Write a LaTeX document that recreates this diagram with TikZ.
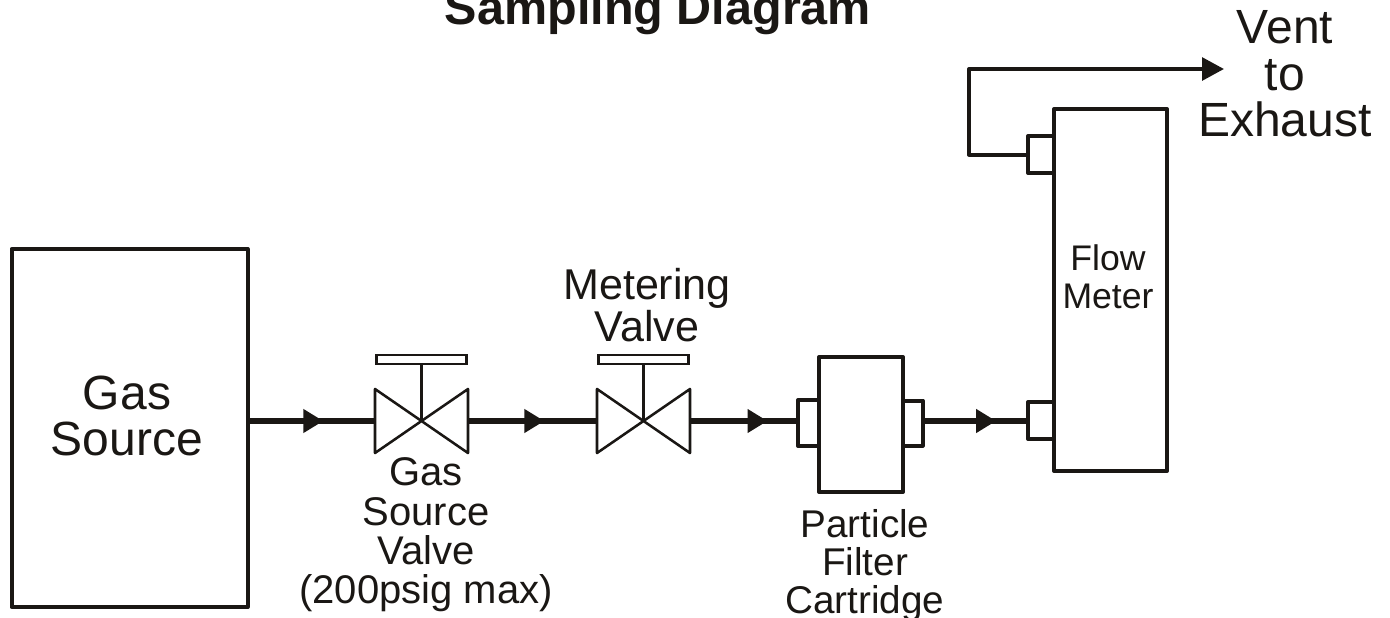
\documentclass[tikz,border=0pt]{standalone}
\usepackage{fontspec}
\setmainfont{Liberation Sans}
\usetikzlibrary{arrows.meta,decorations.markings}
\definecolor{ink}{HTML}{1A1714}
\tikzset{
  px/.style={x=0.75pt,y=-0.75pt},
  boxnode/.style={draw=ink,line width=3pt,line join=round,inner sep=0pt,outer sep=0pt,text=ink},
  lab/.style={text=ink,align=center,inner sep=0pt},
  fs/.style 2 args={font=\fontsize{#1}{#2}\selectfont},
  pipe/.style={draw=ink,line width=3.8pt},
  thinpipe/.style={draw=ink,line width=3pt,line join=round},
  headtip/.tip={Triangle[length=15pt,width=17pt,color=ink]},
  flowmark/.style={postaction={decorate},decoration={markings,mark=at position #1 with {\arrow{headtip}}}},
  valveline/.style={draw=ink,line width=1.9pt,line join=round},
  pics/valve/.style={code={
    \coordinate (-w) at (-46.5,0);
    \coordinate (-e) at (46.5,0);
    \coordinate (-c) at (0,0);
    \node[draw=ink,line width=1.9pt,inner sep=0pt,outer sep=0pt,minimum width=67.5pt,minimum height=6.75pt] (-h) at (0,-61.5) {};
    \draw[valveline] (-46.5,-32) -- (46.5,32) -- (46.5,-32) -- (-46.5,32) -- cycle;
    \draw[valveline] (-h.south) -- (-c);
  }}
}
\begin{document}
\begin{tikzpicture}[px]
\clip (0,0) rectangle (1390,618);
\fill[white] (0,0) rectangle (1390,618);

\node[boxnode,minimum width=177pt,minimum height=268.5pt,fs={36}{35}] (source) at (129.5,428) {};
\node[lab,fs={36}{34}] (sourcetext) at (127,416) {Gas\\Source};

\pic (v1) at (421.5,421) {valve};
\pic (v2) at (643.5,421) {valve};

\node[boxnode,minimum width=15.75pt,minimum height=34.5pt] (capl) at (808.5,423) {};
\node[boxnode,minimum width=15pt,minimum height=33.75pt] (capr) at (912.5,423) {};
\node[boxnode,fill=white,minimum width=63pt,minimum height=101.25pt] (filter) at (861,424.5) {};

\node[boxnode,minimum width=19.5pt,minimum height=27.75pt] (capin) at (1041,420.5) {};
\node[boxnode,minimum width=19.5pt,minimum height=27.75pt] (capout) at (1041,154.5) {};
\node[boxnode,fill=white,minimum width=84.75pt,minimum height=271.5pt] (meter) at (1110.5,290) {};

\coordinate (bend) at (969,69);
\coordinate (vent) at (1224,69);

\draw[pipe,flowmark=0.595] (source.east |- v1-c) -- (v1-w);
\draw[pipe,flowmark=0.592] (v1-e) -- (v2-w);
\draw[pipe,flowmark=0.718] (v2-e) -- (capl.west |- v2-e);
\draw[pipe,flowmark=0.698] (capr.east |- v2-e) -- (capin.west |- v2-e);
\draw[thinpipe,-{Triangle[length=16.5pt,width=17pt,color=ink]}] (capout.west) -| (bend) -- (vent);

\node[lab,fs={36.4}{36}] (title) at (658,12) {\bfseries Sampling Diagram};
\node[lab,fs={36}{35}] (venttext) at (1285,74) {Vent\\to\\Exhaust};
\node[lab,fs={32.3}{32}] (metertext) at (647,305) {Metering\\Valve};
\node[lab,fs={30}{29.5}] (valvetext) at (426,535) {Gas\\Source\\Valve\\(200psig max)};
\node[lab,fs={29}{28.5}] (filtertext) at (865,565) {Particle\\Filter\\Cartridge};
\node[lab,fs={26.7}{28.5}] (metername) at (1108,276.5) {Flow\\Meter};
\end{tikzpicture}
\end{document}
